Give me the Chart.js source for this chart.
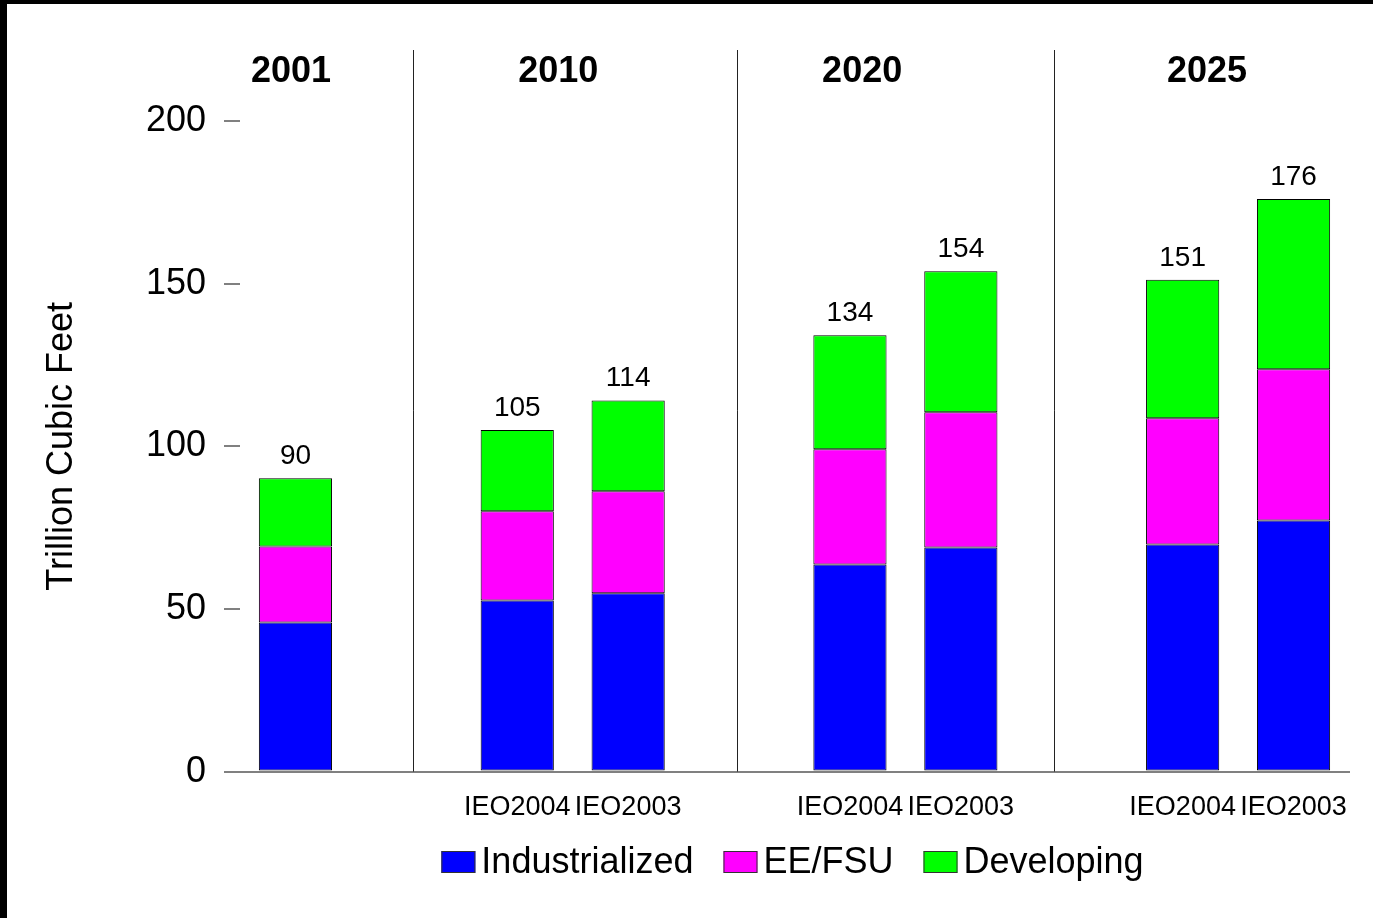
<!DOCTYPE html>
<html>
<head>
<meta charset="utf-8">
<script src="https://cdn.jsdelivr.net/npm/chart.js@4/dist/chart.umd.min.js"></script>
<style>
  html, body { margin: 0; padding: 0; background: #fff; overflow: hidden; }
  #wrap { width: 1373px; height: 918px; position: relative; }
</style>
</head>
<body>
<div id="wrap"><canvas id="gasChart"></canvas></div>
<script>
// one slot per bar, blank slots separate the year groups
const tickLabels = ["", "", "IEO2004", "IEO2003", "", "IEO2004", "IEO2003", "", "IEO2004", "IEO2003"];
const years = ["2001", "2010", "2020", "2025"];
const seriesNames = ["Industrialized", "EE/FSU", "Developing"];

const industrialized = [45.8, null, 52.6, 54.8, null, 63.7, 68.9, null, 69.8, 77.2];
const eeFsu          = [23.4, null, 27.4, 31.4, null, 35.4, 41.6, null, 38.8, 46.5];
const developing     = [21.0, null, 25.0, 27.9, null, 35.0, 43.3, null, 42.6, 52.3];

const yTicks = [0, 50, 100, 150, 200];

const totals = industrialized.map((v, i) =>
  v === null ? null : v + eeFsu[i] + developing[i]);

const colors = ["#0000ff", "#ff00ff", "#00ff00"];
const FONT = "'Liberation Sans', Arial, sans-serif";

// header text and divider lines, placed in slot units on the x scale
const yearSlots = [-0.04, 2.37, 5.11, 8.22];
const dividerSlots = [1.06, 3.98, 6.84];

const decor = {
  id: "decor",
  beforeDraw(chart) {
    const ctx = chart.ctx;
    ctx.save();
    ctx.fillStyle = "#fff";
    ctx.fillRect(0, 0, chart.width, chart.height);
    ctx.restore();
  },
  afterDraw(chart) {
    const ctx = chart.ctx;
    const x = chart.scales.x;
    const area = chart.chartArea;
    ctx.save();

    // dividers between year groups
    ctx.strokeStyle = "#222";
    ctx.lineWidth = 1;
    dividerSlots.forEach(s => {
      const px = Math.round(x.getPixelForValue(s)) + 0.5;
      ctx.beginPath();
      ctx.moveTo(px, 50);
      ctx.lineTo(px, area.bottom);
      ctx.stroke();
    });

    // year headers
    ctx.fillStyle = "#000";
    ctx.textAlign = "center";
    ctx.textBaseline = "middle";
    ctx.font = "bold 36px " + FONT;
    years.forEach((y, i) => {
      ctx.fillText(y, x.getPixelForValue(yearSlots[i]), 72);
    });

    // totals above the stacks
    ctx.font = "28px " + FONT;
    ctx.textBaseline = "alphabetic";
    const topMeta = chart.getDatasetMeta(2);
    totals.forEach((t, i) => {
      if (t === null) return;
      const bar = topMeta.data[i];
      ctx.fillText(String(Math.round(t)), bar.x, bar.y - 14);
    });

    // legend
    ctx.font = "36px " + FONT;
    const boxW = 34, boxH = 22, gapIn = 6, gapOut = 30;
    const widths = seriesNames.map(n => ctx.measureText(n).width);
    let total = 0;
    widths.forEach((w, i) => { total += boxW + gapIn + w + (i < widths.length - 1 ? gapOut : 0); });
    let lx = (area.left + area.right) / 2 - total / 2 - 2;
    const ly = 862;
    ctx.textAlign = "left";
    ctx.textBaseline = "middle";
    seriesNames.forEach((n, i) => {
      ctx.fillStyle = colors[i];
      ctx.fillRect(lx, ly - boxH / 2, boxW, boxH);
      ctx.strokeStyle = "#333";
      ctx.lineWidth = 1;
      ctx.strokeRect(lx + 0.5, ly - boxH / 2 + 0.5, boxW - 1, boxH - 1);
      lx += boxW + gapIn;
      ctx.fillStyle = "#000";
      ctx.fillText(n, lx, ly + 1);
      lx += widths[i] + gapOut;
    });

    // black frame on top and left edges
    ctx.fillStyle = "#000";
    ctx.fillRect(0, 0, chart.width, 4);
    ctx.fillRect(0, 0, 7, chart.height);
    ctx.restore();
  }
};

const seriesData = [industrialized, eeFsu, developing];

new Chart(document.getElementById("gasChart"), {
  type: "bar",
  data: {
    labels: tickLabels,
    datasets: seriesNames.map((name, i) => ({
      label: name,
      data: seriesData[i],
      backgroundColor: colors[i],
      borderColor: "#000",
      borderWidth: 1,
      borderSkipped: false,
      categoryPercentage: 1,
      barPercentage: 0.66
    }))
  },
  options: {
    responsive: true,
    maintainAspectRatio: false,
    animation: false,
    layout: { padding: { top: 121, right: 24, bottom: 82, left: 0 } },
    plugins: {
      legend: { display: false },
      tooltip: { enabled: false }
    },
    scales: {
      x: {
        stacked: true,
        grid: { display: false },
        border: { display: true, color: "#808080", width: 2 },
        ticks: {
          color: "#000",
          font: { family: FONT, size: 27 },
          autoSkip: false,
          maxRotation: 0,
          padding: 12
        }
      },
      y: {
        stacked: true,
        min: 0,
        max: 200,
        afterFit(scale) { scale.width = 240; },
        afterBuildTicks(scale) { scale.ticks = yTicks.map(v => ({ value: v })); },
        grid: {
          drawOnChartArea: false,
          drawTicks: true,
          tickLength: 16,
          color: "#808080",
          lineWidth: 2
        },
        border: { display: false },
        ticks: {
          color: "#000",
          font: { family: FONT, size: 36 },
          padding: 18
        },
        title: {
          display: true,
          text: "Trillion Cubic Feet",
          color: "#000",
          font: { family: FONT, size: 36 },
          padding: { top: 40, bottom: 0 }
        }
      }
    }
  },
  plugins: [decor]
});
</script>
</body>
</html>
